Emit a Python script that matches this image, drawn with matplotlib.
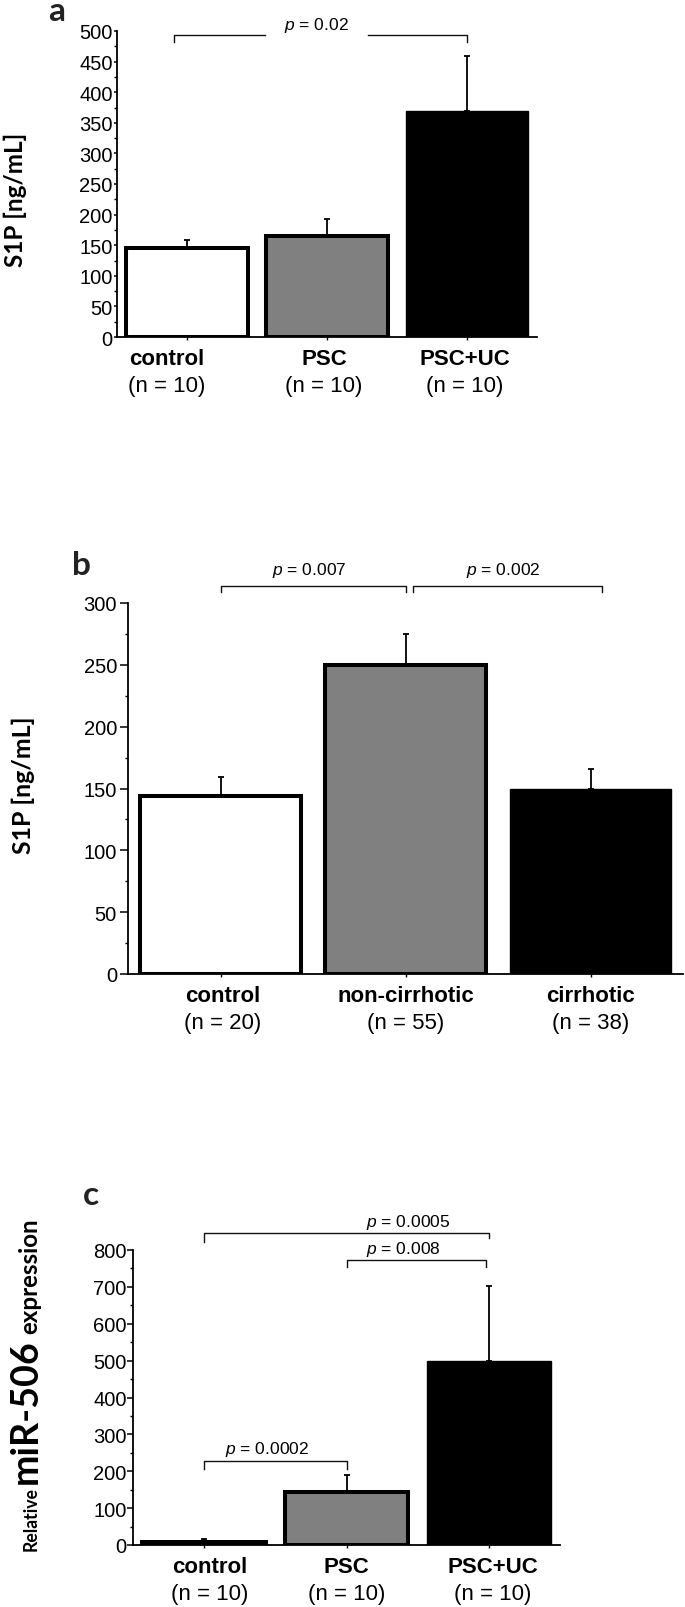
import matplotlib
matplotlib.use('Agg')
import matplotlib.pyplot as plt
from matplotlib.ticker import MultipleLocator

plt.rcParams['font.family'] = ['Liberation Sans', 'DejaVu Sans']
plt.rcParams['mathtext.fontset'] = 'custom'
plt.rcParams['mathtext.it'] = 'Liberation Sans:italic'
plt.rcParams['mathtext.rm'] = 'Liberation Sans'

# ---------------- data ----------------
a_groups = ['control', 'PSC', 'PSC+UC']
a_n = ['(n = 10)', '(n = 10)', '(n = 10)']
a_values = [145, 165, 369]
a_errors = [13, 28, 90]

b_groups = ['control', 'non-cirrhotic', 'cirrhotic']
b_n = ['(n = 20)', '(n = 55)', '(n = 38)']
b_values = [144, 250, 150]
b_errors = [15, 25, 16]

c_groups = ['control', 'PSC', 'PSC+UC']
c_n = ['(n = 10)', '(n = 10)', '(n = 10)']
c_values = [8, 144, 499]
c_errors = [8, 46, 203]

bar_colors = ['white', '#808080', 'black']

W, H = 685, 1608
fig = plt.figure(figsize=(W / 100, H / 100), dpi=100)


def px_axes(l, r, t, b):
    return fig.add_axes([l / W, 1 - b / H, (r - l) / W, (b - t) / H])


def draw_panel(ax, groups, ns, values, errors, ymax, major, minor,
               tlen, tpad, label_dx):
    x = list(range(len(groups)))
    lws = [2.9, 2.9, 1.0]
    for i in x:
        ax.bar(i, values[i], width=0.87, color=bar_colors[i],
               edgecolor='black', linewidth=lws[i], zorder=2)
    ax.errorbar(x, values, yerr=[[0] * len(x), errors], fmt='none',
                ecolor='black', elinewidth=1.3, capsize=2.5, capthick=1.3,
                zorder=3)
    ax.set_xlim(-0.5, 2.5)
    ax.set_ylim(0, ymax)
    for s in ['top', 'right']:
        ax.spines[s].set_visible(False)
    for s in ['left', 'bottom']:
        ax.spines[s].set_linewidth(1.3)
        ax.spines[s].set_zorder(4)
    ax.yaxis.set_major_locator(MultipleLocator(major))
    ax.yaxis.set_minor_locator(MultipleLocator(minor))
    ax.tick_params(axis='y', which='major', direction='out', length=tlen,
                   width=1.1, pad=tpad, labelsize=14.5)
    ax.tick_params(axis='y', which='minor', direction='out', length=2.2,
                   width=1.0)
    ax.set_xticks(x)
    ax.set_xticklabels([])
    ax.tick_params(axis='x', direction='out', length=2.5, width=1.0)
    for i in x:
        ax.annotate(groups[i], xy=(i, 0), xycoords=('data', 'axes fraction'),
                    xytext=(label_dx[i] * 0.72, -27 * 0.72),
                    textcoords='offset points', ha='center', va='baseline',
                    fontsize=16, fontweight='bold', annotation_clip=False)
        ax.annotate(ns[i], xy=(i, 0), xycoords=('data', 'axes fraction'),
                    xytext=(label_dx[i] * 0.72, -54 * 0.72),
                    textcoords='offset points', ha='center', va='baseline',
                    fontsize=16, annotation_clip=False)


def bracket(ax, x1, x2, y, y1, y2, gap=None):
    if gap is None:
        ax.plot([x1, x1, x2, x2], [y1, y, y, y2], color='#111111', lw=1.0,
                clip_on=False, zorder=5)
    else:
        ax.plot([x1, x1, gap[0]], [y1, y, y], color='#111111', lw=1.0,
                clip_on=False, zorder=5)
        ax.plot([gap[1], x2, x2], [y, y, y2], color='#111111', lw=1.0,
                clip_on=False, zorder=5)


def ptext(ax, x, y, s):
    ax.text(x, y, r'$p$ = ' + s, ha='center', va='center', fontsize=12.5,
            clip_on=False)


# ---------------- panel a ----------------
axa = px_axes(117, 537, 32, 338)
draw_panel(axa, a_groups, a_n, a_values, a_errors, 500, 50, 25, 2.5, 0.5,
           [-20, -3, -2])
bracket(axa, -0.09, 2.0, 494, 482, 482, gap=(0.56, 1.29))
ptext(axa, 0.925, 510, '0.02')

# ---------------- panel b ----------------
axb = px_axes(128, 683, 604, 975)
draw_panel(axb, b_groups, b_n, b_values, b_errors, 300, 50, 25, 6, 2,
           [2, 0, 0])
bracket(axb, 0.0, 1.0, 314, 309, 309)
bracket(axb, 1.04, 2.06, 314, 309, 309)
ptext(axb, 0.48, 327, '0.007')
ptext(axb, 1.53, 327, '0.002')

# ---------------- panel c ----------------
axc = px_axes(133, 560, 1251, 1546)
draw_panel(axc, c_groups, c_n, c_values, c_errors, 800, 100, 50, 4, 0.5,
           [6, 0, 4])
bracket(axc, 0.0, 1.0, 228, 206, 206)
bracket(axc, 0.0, 2.0, 846, 822, 833)
bracket(axc, 1.0, 1.98, 773, 754, 754)
ptext(axc, 0.44, 263, '0.0002')
ptext(axc, 1.43, 876, '0.0005')
ptext(axc, 1.40, 803, '0.008')

# ---------------- labels ----------------
renderer = fig.canvas.get_renderer()
lab_font = ['Lato', 'DejaVu Sans']


def size_for(text, target, base=20.0):
    t = fig.text(0.5, 0.5, text, fontsize=base, fontweight='bold',
                 family=lab_font)
    w = t.get_window_extent(renderer).width
    t.remove()
    return base * target / w


fig.text(15 / W, 1 - 200 / H, 'S1P [ng/mL]', rotation=90, ha='center',
         va='center', fontsize=size_for('S1P [ng/mL]', 134),
         fontweight='bold', family=lab_font)
fig.text(23 / W, 1 - 785 / H, 'S1P [ng/mL]', rotation=90, ha='center',
         va='center', fontsize=size_for('S1P [ng/mL]', 137),
         fontweight='bold', family=lab_font)

base_x = 37 / W
for word, y0, length in [('Relative', 1551, 64), ('miR-506', 1484, 145),
                         ('expression', 1334, 116)]:
    fig.text(base_x, 1 - y0 / H, word, rotation=90, rotation_mode='anchor',
             ha='left', va='baseline', fontsize=size_for(word, length),
             fontweight='bold', family=lab_font)

for s, x, y in [('a', 48, 21), ('b', 72, 575), ('c', 83, 1205)]:
    fig.text(x / W, 1 - y / H, s, ha='left', va='baseline', fontsize=24,
             fontweight='bold', family=lab_font, color='#222222')

fig.savefig('out.png', dpi=100)
